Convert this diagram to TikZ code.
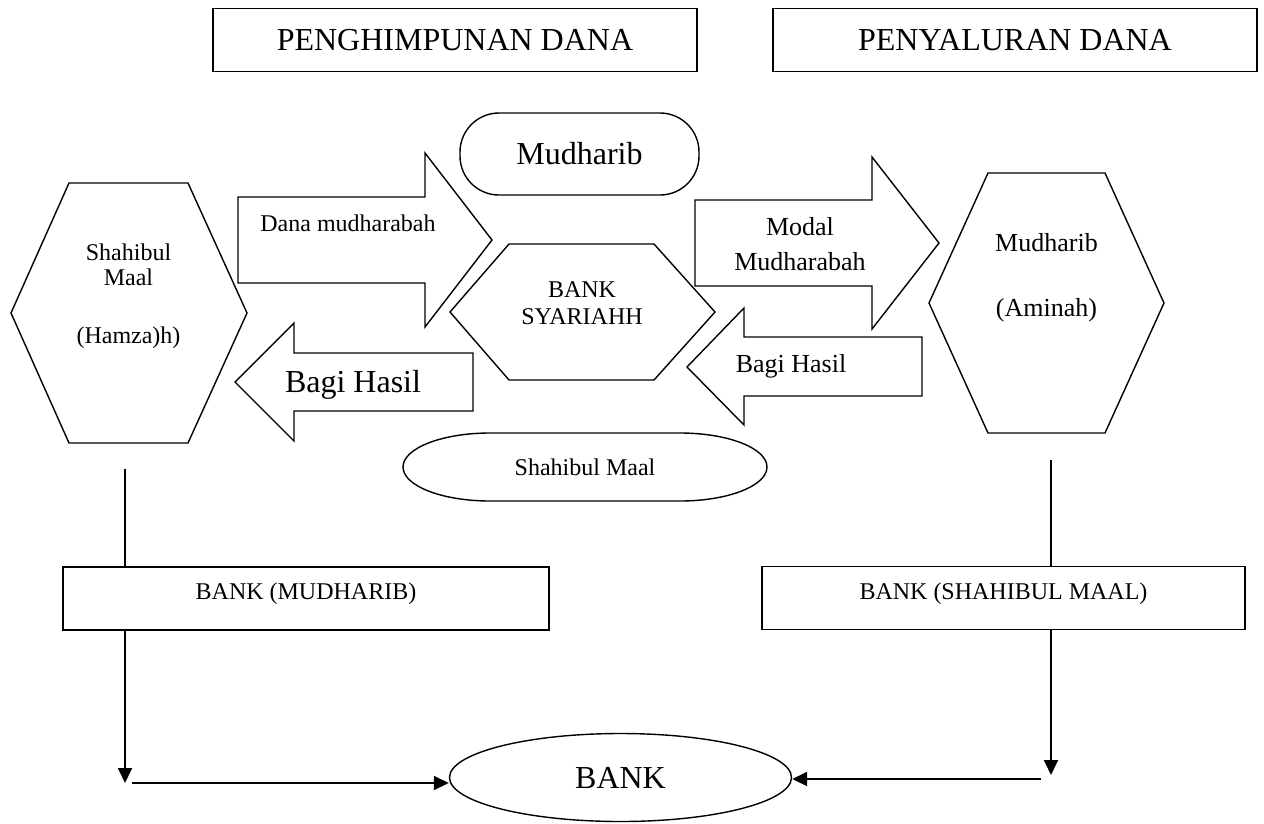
\documentclass[tikz,border=0pt]{standalone}
\usepackage{fontspec}
\setmainfont{Liberation Serif}
\usetikzlibrary{arrows.meta,positioning,shapes.geometric}

\newcommand\txtL{\fontsize{32}{38}\selectfont}
\newcommand\txtM{\fontsize{26}{30}\selectfont}
\newcommand\txtS{\fontsize{24}{26.6}\selectfont}

\begin{document}
\begin{tikzpicture}[
  x=1pt, y=-1pt,
  shp/.style={line width=1.4pt, line join=miter},
  titlebox/.style={draw, shp, minimum width=484pt, minimum height=63pt, font=\txtL},
  bankbox/.style={draw, shp, minimum width=486pt, minimum height=63pt, font=\txtS, text height=17pt, text depth=15pt},
  lbl/.style={inner sep=0pt, align=center},
  conn/.style={line width=1.8pt},
  arr/.style={conn, -{Triangle[length=15pt,width=14pt]}}
]
\useasboundingbox (0,0) rectangle (1264,823);

% judul
\node[titlebox] (himpun) at (455,40) {PENGHIMPUNAN DANA};
\node[titlebox] (salur) at (1015,40) {PENYALURAN DANA};

% shahibul maal (kiri)
\draw[shp] (69,183) -- (188,183) -- (247,313) -- (188,443) -- (69,443) -- (11,313) -- cycle;
\node[lbl, font=\fontsize{24}{25.6}\selectfont] (hamzah) at (128.5,296) {Shahibul\\Maal\\[32pt](Hamza)h)};

% bank di tengah
\node[draw, shp, rounded corners=39pt, minimum width=239pt, minimum height=82pt, font=\txtL] (mudh) at (579.5,154) {Mudharib};
\draw[shp] (509,244) -- (654,244) -- (715,312) -- (654,380) -- (509,380) -- (450,312) -- cycle;
\node[lbl, font=\txtS] (bsy) at (582,303) {BANK\\SYARIAHH};
\draw[shp] (490,433) -- (680,433) arc[start angle=90, end angle=-90, x radius=87pt, y radius=34pt]
  -- (490,501) arc[start angle=270, end angle=90, x radius=87pt, y radius=34pt] -- cycle;
\node[lbl, font=\txtS] (shm) at (585,467) {Shahibul Maal};

% panah kiri
\draw[shp] (238,197) -- (425,197) -- (425,153) -- (492,240) -- (425,327) -- (425,283) -- (238,283) -- cycle;
\node[lbl, font=\txtS] (dana) at (348,223) {Dana mudharabah};
\draw[shp] (473,353) -- (294,353) -- (294,323) -- (235,382) -- (294,441) -- (294,411) -- (473,411) -- cycle;
\node[lbl, font=\txtL] (bagiA) at (353,385) {Bagi Hasil};

% panah kanan
\draw[shp] (695,200) -- (872,200) -- (872,157) -- (939,243) -- (872,329) -- (872,286) -- (695,286) -- cycle;
\node[lbl, font=\fontsize{26}{35}\selectfont] (modal) at (800,244) {Modal\\Mudharabah};
\draw[shp] (922,337) -- (744,337) -- (744,308) -- (687,367) -- (744,425) -- (744,396) -- (922,396) -- cycle;
\node[lbl, font=\txtM] (bagiB) at (791,366) {Bagi Hasil};

% mudharib (kanan)
\draw[shp] (988,173) -- (1105,173) -- (1164,303) -- (1105,433) -- (988,433) -- (929,303) -- cycle;
\node[lbl, font=\txtM] (aminah) at (1046.5,278) {Mudharib\\[35pt](Aminah)};

% bawah
\node[bankbox] (bmud) at (306,598.5) {BANK (MUDHARIB)};
\node[bankbox, minimum width=483pt] (bsha) at (1003.5,598) {BANK (SHAHIBUL MAAL)};
\node[draw, ellipse, shp, minimum width=342pt, minimum height=88pt, inner sep=0pt, font=\txtL] (bank) at (620.5,777.5) {BANK};

\coordinate (kiri) at (125,469);
\coordinate (kiriB) at (125,783);
\coordinate (kiriH) at (132,783);
\draw[conn] (kiri) -- (kiri |- bmud.north);
\draw[arr] (kiri |- bmud.south) -- (kiriB);
\draw[arr] (kiriH) -- (kiriH -| bank.west);

\coordinate (kanan) at (1051,460);
\coordinate (kananB) at (1051,775);
\coordinate (kananH) at (1041,779);
\draw[conn] (kanan) -- (kanan |- bsha.north);
\draw[arr] (kanan |- bsha.south) -- (kananB);
\draw[arr] (kananH) -- (kananH -| bank.east);

\end{tikzpicture}
\end{document}
